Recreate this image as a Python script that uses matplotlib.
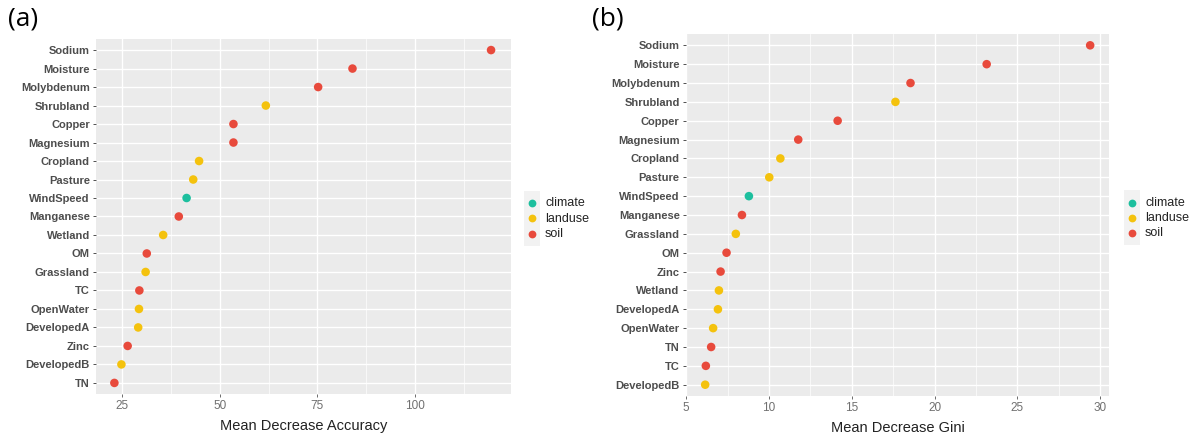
import matplotlib.pyplot as plt
from matplotlib.patches import Rectangle
from matplotlib.lines import Line2D
from matplotlib.ticker import MultipleLocator

# datos, de arriba hacia abajo
vars_a = ['Sodium', 'Moisture', 'Molybdenum', 'Shrubland', 'Copper', 'Magnesium',
          'Cropland', 'Pasture', 'WindSpeed', 'Manganese', 'Wetland', 'OM',
          'Grassland', 'TC', 'OpenWater', 'DevelopedA', 'Zinc', 'DevelopedB', 'TN']
accuracy = [119.5, 84.0, 75.2, 61.8, 53.5, 53.5, 44.7, 43.2, 41.5, 39.5, 35.5, 31.3,
            31.0, 29.4, 29.3, 29.1, 26.4, 24.8, 23.0]
grupo_a = ['soil', 'soil', 'soil', 'landuse', 'soil', 'soil', 'landuse', 'landuse',
           'climate', 'soil', 'landuse', 'soil', 'landuse', 'soil', 'landuse',
           'landuse', 'soil', 'landuse', 'soil']

vars_b = ['Sodium', 'Moisture', 'Molybdenum', 'Shrubland', 'Copper', 'Magnesium',
          'Cropland', 'Pasture', 'WindSpeed', 'Manganese', 'Grassland', 'OM',
          'Zinc', 'Wetland', 'DevelopedA', 'OpenWater', 'TN', 'TC', 'DevelopedB']
gini = [29.40, 23.15, 18.55, 17.64, 14.15, 11.77, 10.69, 10.02, 8.79, 8.37, 8.00,
        7.44, 7.08, 6.98, 6.92, 6.63, 6.51, 6.19, 6.15]
grupo_b = ['soil', 'soil', 'soil', 'landuse', 'soil', 'soil', 'landuse', 'landuse',
           'climate', 'soil', 'landuse', 'soil', 'soil', 'landuse', 'landuse',
           'landuse', 'soil', 'soil', 'landuse']

grupos = ['climate', 'landuse', 'soil']
colores = {'climate': '#1DBF9E', 'landuse': '#F4C20D', 'soil': '#E84A3C'}

fuente = 'Liberation Sans'


def dibujar_panel(ax, nombres, valores, grupo, xlim, mayor, etiqueta):
    n = len(nombres)
    ys = [n - 1 - i for i in range(n)]
    ax.set_facecolor('#EBEBEB')
    ax.scatter(valores, ys, c=[colores[g] for g in grupo], s=38, zorder=3,
               linewidths=0)
    ax.set_xlim(*xlim)
    ax.set_ylim(-0.6, n - 0.4)
    ax.set_yticks(ys)
    ax.set_yticklabels(nombres, fontfamily=fuente, fontweight='bold',
                       fontsize=8, color='#4D4D4D')
    ax.xaxis.set_major_locator(MultipleLocator(mayor))
    ax.xaxis.set_minor_locator(MultipleLocator(mayor / 2))
    for lbl in ax.get_xticklabels():
        lbl.set_fontfamily(fuente)
    ax.tick_params(axis='x', labelsize=8.5, labelcolor='#707070', color='#555555',
                   length=2.5, width=0.6, pad=2)
    ax.tick_params(axis='x', which='minor', length=0)
    ax.tick_params(axis='y', color='#333333', length=2.5, width=0.6, pad=2)
    ax.grid(True, which='major', color='white', lw=1.0, zorder=0)
    ax.grid(True, which='minor', axis='x', color='white', lw=0.5, zorder=0)
    ax.set_axisbelow(True)
    for s in ax.spines.values():
        s.set_visible(False)
    ax.set_xlabel(etiqueta, fontfamily=fuente, fontsize=10.5, color='#222222',
                  labelpad=5)


def dibujar_leyenda(fig, x, y0, dy):
    # fondo gris de las claves
    fig.patches.append(Rectangle((x - 0.0065, y0 - 2 * dy - 0.028), 0.013,
                                 2 * dy + 0.056, transform=fig.transFigure,
                                 facecolor='#F2F2F2', edgecolor='none'))
    for i, g in enumerate(grupos):
        yy = y0 - i * dy
        fig.lines.append(Line2D([x], [yy], transform=fig.transFigure, marker='o',
                                markersize=5.6, color=colores[g], markeredgewidth=0,
                                linestyle='none'))
        fig.text(x + 0.011, yy, g, fontfamily=fuente, fontsize=9, va='center',
                 ha='left', color='#222222')


fig = plt.figure(figsize=(11.93, 4.36), dpi=100)

ax1 = fig.add_axes([0.0805, 0.0963, 0.3478, 0.8143])
dibujar_panel(ax1, vars_a, accuracy, grupo_a, (18.3, 124.6), 25,
              'Mean Decrease Accuracy')

ax2 = fig.add_axes([0.575, 0.0917, 0.3549, 0.8303])
dibujar_panel(ax2, vars_b, gini, grupo_b, (4.99, 30.56), 5,
              'Mean Decrease Gini')

dibujar_leyenda(fig, 532 / 1193, 1 - 203 / 436, 15.5 / 436)
dibujar_leyenda(fig, 1132 / 1193, 1 - 202.7 / 436, 15 / 436)

fig.text(8 / 1193, 1 - 19 / 436, '(a)', fontfamily='Open Sans', fontsize=19,
         va='center', ha='left')
fig.text(592 / 1193, 1 - 19 / 436, '(b)', fontfamily='Open Sans', fontsize=19,
         va='center', ha='left')

plt.savefig('out.png', dpi=100)
